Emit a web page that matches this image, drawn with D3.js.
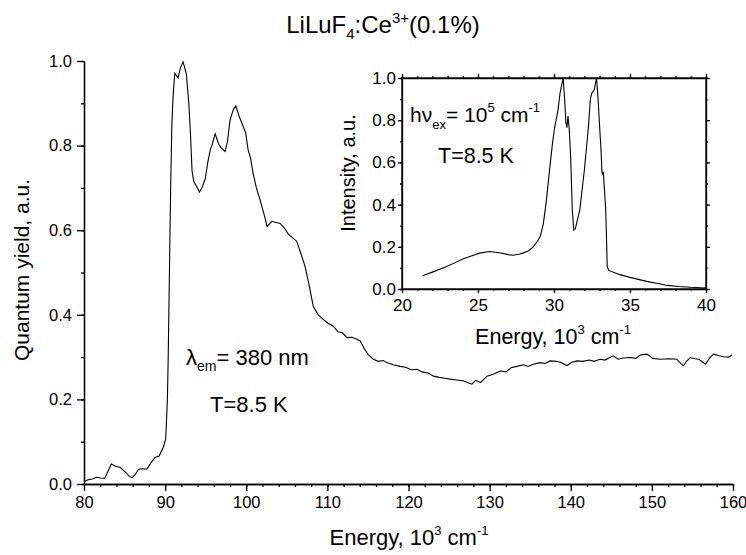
<!DOCTYPE html>
<html>
<head>
<meta charset="utf-8">
<script src="https://cdn.jsdelivr.net/npm/d3@7"></script>
<style>
  body { margin: 0; background: #fff; }
  svg { font-family: "Liberation Sans", Arial, sans-serif; }
  .axis path, .axis line { stroke: #000; stroke-width: 1.3; }
  .axis text { fill: #000; }
</style>
</head>
<body>
<script>
// ================================
// DATA
// ================================

// main spectrum: energy (10^3 cm-1) and quantum yield
var mainEnergy = [
    80.0, 80.52, 81.03, 81.54, 82.05, 82.55, 82.96, 83.37, 83.88, 84.49, 85.09, 85.6, 85.91, 86.31,
    86.72, 87.23, 87.74, 88.24, 88.75, 89.26, 89.77, 90.07, 90.28, 90.38, 90.53, 90.68, 90.83, 90.99, 91.19,
    91.6, 91.9, 92.21, 92.61, 92.92, 93.12, 93.32, 93.53, 93.83, 94.24, 94.64, 94.95, 95.25, 95.56, 95.76,
    96.17, 96.57, 96.88, 97.39, 97.69, 98.0, 98.4, 98.71, 99.11, 99.62, 99.93, 100.23, 100.54, 100.84, 101.25,
    101.7, 102.16, 102.57, 102.87, 103.18, 103.68, 104.19, 104.7, 105.21, 105.72, 106.22, 106.73, 107.24, 107.75, 108.26,
    108.87, 109.48, 110.08, 110.74, 111.3, 111.81, 112.42, 113.03, 113.64, 114.05, 114.55, 115.06, 115.67, 116.28, 116.89,
    117.3, 118.11, 118.97, 119.63, 120.34, 121.06, 121.67, 122.48, 123.09, 123.8, 124.51, 125.12, 125.93, 126.74, 127.25,
    127.81, 128.27, 128.88, 129.69, 130.5, 131.32, 132.03, 132.64, 133.35, 134.16, 134.77, 135.38, 136.19, 136.8, 137.46,
    138.22, 138.73, 139.54, 140.15, 140.76, 141.47, 142.29, 142.9, 143.61, 144.22, 144.72, 145.23, 145.84, 146.45, 147.37,
    147.98, 148.59, 149.4, 150.11, 151.02, 152.04, 153.06, 153.87, 154.27, 154.73, 155.29, 155.8, 156.61, 157.12, 157.63,
    158.24, 158.85, 159.45, 159.9
];
var mainYield = [
    0.006, 0.010, 0.012, 0.016, 0.014, 0.013, 0.030, 0.047, 0.042, 0.039, 0.028, 0.018, 0.015, 0.022,
    0.035, 0.036, 0.035, 0.050, 0.063, 0.066, 0.087, 0.106, 0.200, 0.300, 0.500, 0.700, 0.850, 0.920, 0.971,
    0.960, 0.985, 0.998, 0.970, 0.900, 0.830, 0.740, 0.715, 0.705, 0.690, 0.705, 0.722, 0.760, 0.790, 0.800,
    0.828, 0.805, 0.795, 0.786, 0.810, 0.860, 0.885, 0.894, 0.870, 0.845, 0.830, 0.790, 0.770, 0.735, 0.700,
    0.672, 0.640, 0.609, 0.615, 0.621, 0.618, 0.616, 0.605, 0.590, 0.582, 0.574, 0.545, 0.515, 0.470, 0.420,
    0.400, 0.389, 0.380, 0.373, 0.360, 0.358, 0.346, 0.347, 0.342, 0.338, 0.320, 0.305, 0.295, 0.290, 0.292,
    0.287, 0.282, 0.278, 0.276, 0.270, 0.271, 0.265, 0.262, 0.255, 0.252, 0.250, 0.248, 0.246, 0.244, 0.240,
    0.236, 0.245, 0.240, 0.255, 0.260, 0.267, 0.265, 0.275, 0.278, 0.282, 0.278, 0.283, 0.287, 0.285, 0.291,
    0.290, 0.288, 0.280, 0.288, 0.291, 0.290, 0.293, 0.290, 0.295, 0.293, 0.298, 0.303, 0.295, 0.298, 0.299,
    0.297, 0.305, 0.307, 0.297, 0.295, 0.296, 0.295, 0.279, 0.290, 0.299, 0.296, 0.295, 0.283, 0.298, 0.307,
    0.303, 0.301, 0.300, 0.305
];

// inset spectrum: energy (10^3 cm-1) and intensity
var insetEnergy = [
    21.35, 22.0, 22.9, 23.5, 24.0, 24.6, 25.1, 25.75, 26.4, 27.0, 27.3, 27.7, 27.95, 28.3, 28.6,
    28.9, 29.1, 29.3, 29.5, 29.7, 29.9, 30.05, 30.25, 30.4, 30.6, 30.7, 30.78, 30.85, 30.92, 31.0,
    31.1, 31.2, 31.3, 31.4, 31.7, 32.0, 32.25, 32.4, 32.5, 32.65, 32.8, 32.9, 33.0, 33.1, 33.15,
    33.2, 33.25, 33.3, 33.4, 33.47, 33.5, 33.6, 34.35, 35.0, 36.1, 37.0, 37.45, 38.2, 39.0, 40.0
];
var insetIntensity = [
    0.063, 0.080, 0.105, 0.125, 0.142, 0.158, 0.170, 0.178, 0.172, 0.163, 0.160, 0.165, 0.170, 0.180, 0.197,
    0.225, 0.250, 0.310, 0.420, 0.560, 0.690, 0.770, 0.842, 0.930, 1.000, 0.900, 0.790, 0.765, 0.820, 0.760,
    0.620, 0.380, 0.280, 0.285, 0.376, 0.565, 0.755, 0.905, 0.930, 0.945, 1.000, 0.900, 0.771, 0.650, 0.560,
    0.540, 0.555, 0.490, 0.380, 0.200, 0.107, 0.088, 0.068, 0.055, 0.036, 0.024, 0.017, 0.012, 0.008, 0.005
];

// tick values
var mainXTicks = [80, 90, 100, 110, 120, 130, 140, 150, 160];
var mainYTicks = [0, 0.2, 0.4, 0.6, 0.8, 1.0];
var insetXTicks = [20, 25, 30, 35, 40];
var insetYTicks = [0, 0.2, 0.4, 0.6, 0.8, 1.0];

var width = 746,
    height = 555;

var svg = d3.select("body")
    .append("svg")
    .attr("width", width)
    .attr("height", height);

// ================================
// MAIN PLOT
// ================================
var x = d3.scaleLinear().domain([80, 160]).range([84, 733]);
var y = d3.scaleLinear().domain([0, 1]).range([484, 61]);

// minor ticks first (no labels)
svg.append("g")
    .attr("class", "axis")
    .attr("transform", "translate(0,484)")
    .call(d3.axisBottom(x).tickValues(d3.range(80, 161, 2)).tickSize(3).tickSizeOuter(0).tickFormat(""));
svg.append("g")
    .attr("class", "axis")
    .attr("transform", "translate(84,0)")
    .call(d3.axisLeft(y).tickValues(d3.range(0, 1.01, 0.1)).tickSize(3).tickSizeOuter(0).tickFormat(""));

var xAxis = svg.append("g")
    .attr("class", "axis")
    .attr("transform", "translate(0,484)")
    .call(d3.axisBottom(x).tickValues(mainXTicks).tickSize(7).tickSizeOuter(0).tickPadding(5));
xAxis.selectAll("text").style("font-size", "16.5px");

var yAxis = svg.append("g")
    .attr("class", "axis")
    .attr("transform", "translate(84,0)")
    .call(d3.axisLeft(y).tickValues(mainYTicks).tickSize(7).tickSizeOuter(0).tickPadding(5)
        .tickFormat(d3.format(".1f")));
yAxis.selectAll("text").style("font-size", "16.5px");

var line = d3.line()
    .x(function(d){ return x(d[0]); })
    .y(function(d){ return y(d[1]); });

svg.append("path")
    .datum(d3.zip(mainEnergy, mainYield))
    .attr("fill", "none")
    .attr("stroke", "#000")
    .attr("stroke-width", 1.1)
    .attr("d", line);

// title
var title = svg.append("text")
    .attr("x", 383)
    .attr("y", 33)
    .attr("text-anchor", "middle")
    .style("font-size", "24px");
title.append("tspan").text("LiLuF");
title.append("tspan").attr("dy", 6).style("font-size", "15px").text("4");
title.append("tspan").attr("dy", -6).text(":Ce");
title.append("tspan").attr("dy", -10).style("font-size", "15px").text("3+");
title.append("tspan").attr("dy", 10).text("(0.1%)");

// axis labels
var xlab = svg.append("text")
    .attr("x", 409)
    .attr("y", 545)
    .attr("text-anchor", "middle")
    .style("font-size", "22px");
xlab.append("tspan").text("Energy, 10");
xlab.append("tspan").attr("dy", -10).style("font-size", "13px").text("3");
xlab.append("tspan").attr("dy", 10).text(" cm");
xlab.append("tspan").attr("dy", -10).style("font-size", "13px").text("-1");

svg.append("text")
    .attr("transform", "translate(29,270) rotate(-90)")
    .attr("text-anchor", "middle")
    .style("font-size", "21px")
    .text("Quantum yield, a.u.");

// annotations
var lam = svg.append("text")
    .attr("x", 186)
    .attr("y", 365)
    .style("font-size", "22px");
lam.append("tspan").text("\u03bb");
lam.append("tspan").attr("dy", 6).style("font-size", "14px").text("em");
lam.append("tspan").attr("dy", -6).text("= 380 nm");

svg.append("text")
    .attr("x", 210)
    .attr("y", 412)
    .style("font-size", "22px")
    .text("T=8.5 K");

// ================================
// INSET
// ================================
var ix = d3.scaleLinear().domain([20, 40]).range([402, 706]);
var iy = d3.scaleLinear().domain([0, 1]).range([289, 78]);

svg.append("rect")
    .attr("x", 402)
    .attr("y", 78)
    .attr("width", 304)
    .attr("height", 211)
    .attr("fill", "none")
    .attr("stroke", "#000")
    .attr("stroke-width", 1.3);

function insetTicks(axisFn, scale, minorVals, majorVals, tr, labels, pad){
    svg.append("g")
        .attr("class", "axis")
        .attr("transform", tr)
        .call(axisFn(scale).tickValues(minorVals).tickSize(2).tickSizeOuter(0).tickFormat(""));
    var g = svg.append("g")
        .attr("class", "axis")
        .attr("transform", tr)
        .call(axisFn(scale).tickValues(majorVals).tickSize(4).tickSizeOuter(0).tickPadding(pad)
            .tickFormat(labels ? labels : ""));
    g.selectAll("text").style("font-size", "17px");
    g.select(".domain").remove();
}

insetTicks(d3.axisBottom, ix, d3.range(20, 40.5, 1), insetXTicks, "translate(0,289)", d3.format("d"), 6);
insetTicks(d3.axisTop, ix, d3.range(20, 40.5, 1), insetXTicks, "translate(0,78)", null, 3);
insetTicks(d3.axisLeft, iy, d3.range(0, 1.01, 0.1), insetYTicks, "translate(402,0)", d3.format(".1f"), 2);
insetTicks(d3.axisRight, iy, d3.range(0, 1.01, 0.1), insetYTicks, "translate(706,0)", null, 3);

var iline = d3.line()
    .x(function(d){ return ix(d[0]); })
    .y(function(d){ return iy(d[1]); });

svg.append("path")
    .datum(d3.zip(insetEnergy, insetIntensity))
    .attr("fill", "none")
    .attr("stroke", "#000")
    .attr("stroke-width", 1.1)
    .attr("d", iline);

var ixlab = svg.append("text")
    .attr("x", 553)
    .attr("y", 344)
    .attr("text-anchor", "middle")
    .style("font-size", "21.5px");
ixlab.append("tspan").text("Energy, 10");
ixlab.append("tspan").attr("dy", -10).style("font-size", "13px").text("3");
ixlab.append("tspan").attr("dy", 10).text(" cm");
ixlab.append("tspan").attr("dy", -10).style("font-size", "13px").text("-1");

svg.append("text")
    .attr("transform", "translate(355,173) rotate(-90)")
    .attr("text-anchor", "middle")
    .style("font-size", "20px")
    .text("Intensity, a.u.");

var hv = svg.append("text")
    .attr("x", 410)
    .attr("y", 122)
    .style("font-size", "21px");
hv.append("tspan").text("h\u03bd");
hv.append("tspan").attr("dy", 7).style("font-size", "13px").text("ex");
hv.append("tspan").attr("dy", -7).text("= 10");
hv.append("tspan").attr("dy", -10).style("font-size", "13px").text("5");
hv.append("tspan").attr("dy", 10).text(" cm");
hv.append("tspan").attr("dy", -10).style("font-size", "13px").text("-1");

svg.append("text")
    .attr("x", 438)
    .attr("y", 163)
    .style("font-size", "21.5px")
    .text("T=8.5 K");
</script>
</body>
</html>
